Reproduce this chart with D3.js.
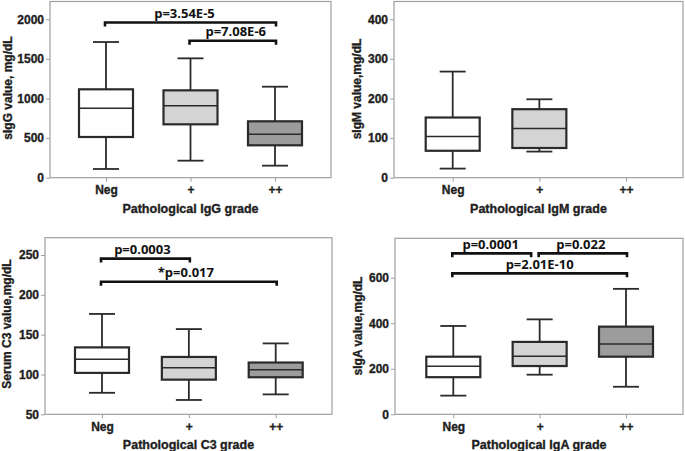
<!DOCTYPE html>
<html><head><meta charset="utf-8">
<script src="https://cdn.jsdelivr.net/npm/d3@7"></script>
<style>body{margin:0;background:#fff}svg{display:block}</style>
</head><body>
<svg id="c" width="685" height="451"></svg>
<script>
const categories = ["Neg", "+", "++"];
const fills = ["#ffffff", "#d4d4d4", "#9c9c9c"];

// [low whisker, Q1, median, Q3, high whisker]
const iggStats = [[110, 514, 876, 1116, 1713], [215, 674, 909, 1103, 1507], [152, 409, 548, 712, 1149]];
const igmStats = [[23, 68, 104, 152, 268], [66, 75, 124, 173, 198], null];
const c3Stats = [[77, 102, 119, 134, 176], [68, 93.5, 108.5, 122, 157], [75, 96.5, 106, 115, 139]];
const igaStats = [[82, 163, 211, 253, 388], [174, 212, 255, 318, 417], [121, 253, 309, 385, 551]];

const iggTicks = [0, 500, 1000, 1500, 2000];
const igmTicks = [0, 100, 200, 300, 400];
const c3Ticks = [50, 100, 150, 200, 250];
const igaTicks = [0, 200, 400, 600];

// brackets: [from category position, to category position, level value, label]
const iggBrackets = [[0, 2, 1960, "p=3.54E-5"], [1, 2, 1730, "p=7.08E-6"]];
const igmBrackets = [];
const c3Brackets = [[0, 1, 245.5, "p=0.0003"], [0, 2, 216.5, "*p=0.017"]];
const igaBrackets = [[0, 0.89, 707, "p=0.0001"], [1, 2, 707, "p=0.022"], [0, 2, 619, "p=2.01E-10"]];

const svg = d3.select("#c");
const SANS = "Liberation Sans, Arial, sans-serif";

function boldText(sel, size) {
  return sel.attr("font-family", SANS).attr("font-weight", "bold").attr("font-size", size)
    .attr("fill", "#1e1e1e").attr("stroke", "#1e1e1e").attr("stroke-width", 0.35);
}

function panel(cfg) {
  const g = svg.append("g");
  const y = d3.scaleLinear().domain(cfg.domain).range([cfg.bottom, cfg.y0]);
  const x = d3.scalePoint().domain(categories).range([cfg.cx0, cfg.cx2]);
  g.append("rect").attr("x", cfg.left).attr("y", cfg.top)
    .attr("width", cfg.right - cfg.left).attr("height", cfg.bottom - cfg.top)
    .attr("fill", "none").attr("stroke", "#a0a0a0").attr("stroke-width", 1.2);
  const ya = g.append("g").attr("transform", `translate(${cfg.left},0)`)
    .call(d3.axisLeft(y).tickValues(cfg.ticks).tickSize(4).tickPadding(2).tickFormat(d3.format("d")));
  ya.select(".domain").remove();
  ya.selectAll("line").attr("stroke", "#a0a0a0");
  boldText(ya.selectAll("text"), 12);
  const xa = g.append("g").attr("transform", `translate(0,${cfg.bottom})`)
    .call(d3.axisBottom(x).tickSize(4).tickPadding(4));
  xa.select(".domain").remove();
  xa.selectAll("line").attr("stroke", "#a0a0a0");
  boldText(xa.selectAll("text"), 12);
  boldText(g.append("text").attr("x", (cfg.left + cfg.right) / 2).attr("y", cfg.bottom + 35)
    .attr("text-anchor", "middle"), 12.5).text(cfg.xtitle);
  boldText(g.append("text").attr("transform", `translate(${cfg.ylx},${cfg.yly}) rotate(-90)`)
    .attr("text-anchor", "middle"), 12).text(cfg.ytitle);
  const bw = 54, cw = 26;
  cfg.stats.forEach((s, i) => {
    if (!s) return;
    const cx = x(categories[i]);
    const bg = g.append("g").attr("stroke", "#2a2a2a").attr("stroke-width", 1.8);
    bg.append("line").attr("x1", cx).attr("x2", cx).attr("y1", y(s[0])).attr("y2", y(s[1]));
    bg.append("line").attr("x1", cx).attr("x2", cx).attr("y1", y(s[3])).attr("y2", y(s[4]));
    bg.append("line").attr("x1", cx - cw / 2).attr("x2", cx + cw / 2).attr("y1", y(s[0])).attr("y2", y(s[0]));
    bg.append("line").attr("x1", cx - cw / 2).attr("x2", cx + cw / 2).attr("y1", y(s[4])).attr("y2", y(s[4]));
    bg.append("rect").attr("x", cx - bw / 2).attr("y", y(s[3])).attr("width", bw)
      .attr("height", y(s[1]) - y(s[3])).attr("fill", fills[i]).attr("stroke-width", 2.2);
    bg.append("line").attr("x1", cx - bw / 2).attr("x2", cx + bw / 2).attr("y1", y(s[2])).attr("y2", y(s[2]))
      .attr("stroke-width", 1.5);
  });
  const xi = t => { const a = Math.floor(t), b = Math.min(a + 1, 2); const pa = x(categories[a]), pb = x(categories[b]); return pa + (pb - pa) * (t - a); };
  cfg.brackets.forEach((b, k) => {
    const x1 = xi(b[0]) - 1, x2 = xi(b[1]) + 1, yy = y(b[2]);
    g.append("path").attr("d", `M${x1},${yy + 4}V${yy}H${x2}V${yy + 4}`)
      .attr("fill", "none").attr("stroke", "#111").attr("stroke-width", 2.6);
    g.append("text").attr("x", (x1 + x2) / 2 + (cfg.labelDx[k] || 0)).attr("y", yy - 4.5)
      .attr("text-anchor", "middle").attr("font-family", "Open Sans, sans-serif")
      .attr("font-weight", "bold").attr("font-size", 13).attr("fill", "#111").text(b[3]);
  });
}

panel({ left: 50, right: 331, top: 1.5, bottom: 177.7, y0: 19.3, domain: [0, 2000], cx0: 106, cx2: 275,
  ticks: iggTicks, stats: iggStats, brackets: iggBrackets, labelDx: [-6, 3],
  xtitle: "Pathological IgG grade", ytitle: "sIgG value, mg/dL", ylx: 12, yly: 88 });
panel({ left: 394, right: 683, top: 1.5, bottom: 177.7, y0: 19.3, domain: [0, 400], cx0: 452.7, cx2: 626,
  ticks: igmTicks, stats: igmStats, brackets: igmBrackets, labelDx: [],
  xtitle: "Pathological IgM grade", ytitle: "sIgM value,mg/dL", ylx: 361, yly: 89 });
panel({ left: 45, right: 332, top: 237.7, bottom: 414.3, y0: 255, domain: [50, 250], cx0: 102, cx2: 275.7,
  ticks: c3Ticks, stats: c3Stats, brackets: c3Brackets, labelDx: [-3, -3],
  xtitle: "Pathological C3 grade", ytitle: "Serum C3 value,mg/dL", ylx: 11, yly: 324 });
panel({ left: 395, right: 683, top: 238.3, bottom: 414.3, y0: 277.7, domain: [0, 600], cx0: 453.3, cx2: 626,
  ticks: igaTicks, stats: igaStats, brackets: igaBrackets, labelDx: [-1, -2, 0],
  xtitle: "Pathological IgA grade", ytitle: "sIgA value,mg/dL", ylx: 362, yly: 326 });
</script>
</body></html>
